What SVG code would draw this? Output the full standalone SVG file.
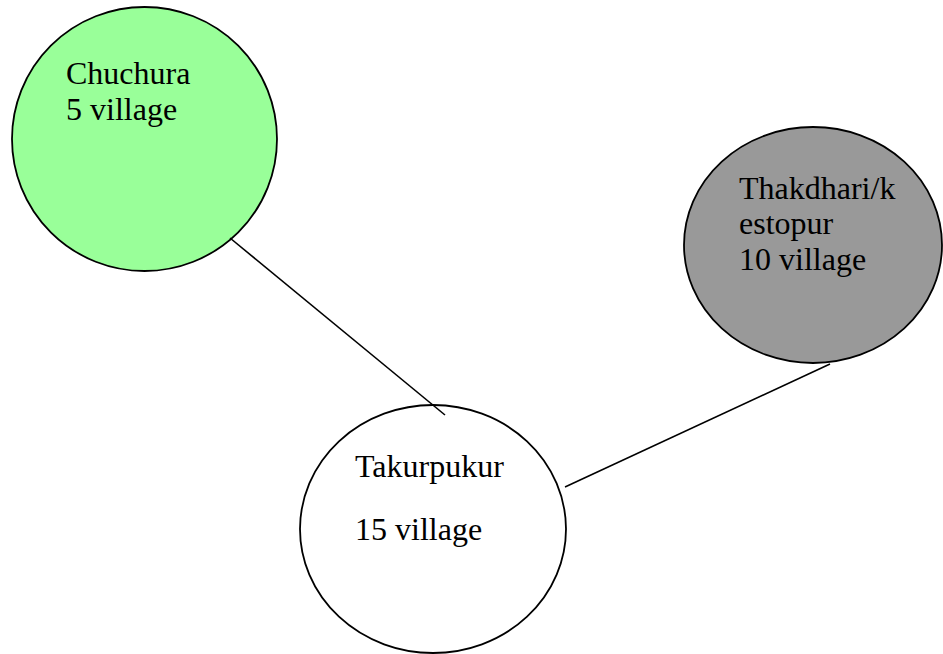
<svg xmlns="http://www.w3.org/2000/svg" width="943" height="654" viewBox="0 0 943 654">
<style>
.n{stroke:#000;stroke-width:1.8}
.t{font-family:"Liberation Serif","Times New Roman",serif;font-size:32px;fill:#000}
.c{stroke:#000;stroke-width:1.6;fill:none}
</style>
<rect width="943" height="654" fill="#fff"/>
<g id="chuchura">
<ellipse class="n" cx="144.5" cy="139" rx="132.5" ry="132" fill="#99FF99"/>
<text class="t" x="66" y="84">Chuchura</text>
<text class="t" x="66" y="120">5 village</text>
</g>
<g id="thakdhari">
<ellipse class="n" cx="813" cy="245" rx="129" ry="118" fill="#999999"/>
<text class="t" x="739" y="199">Thakdhari/k</text>
<text class="t" x="739" y="234">estopur</text>
<text class="t" x="739" y="270">10 village</text>
</g>
<g id="takurpukur">
<ellipse class="n" cx="433" cy="529" rx="133" ry="124" fill="#fff"/>
<text class="t" x="355" y="477">Takurpukur</text>
<text class="t" x="355" y="540">15 village</text>
</g>
<g id="connectors">
<line class="c" x1="230" y1="238" x2="445" y2="415"/>
<line class="c" x1="565" y1="487" x2="830" y2="364"/>
</g>
</svg>
